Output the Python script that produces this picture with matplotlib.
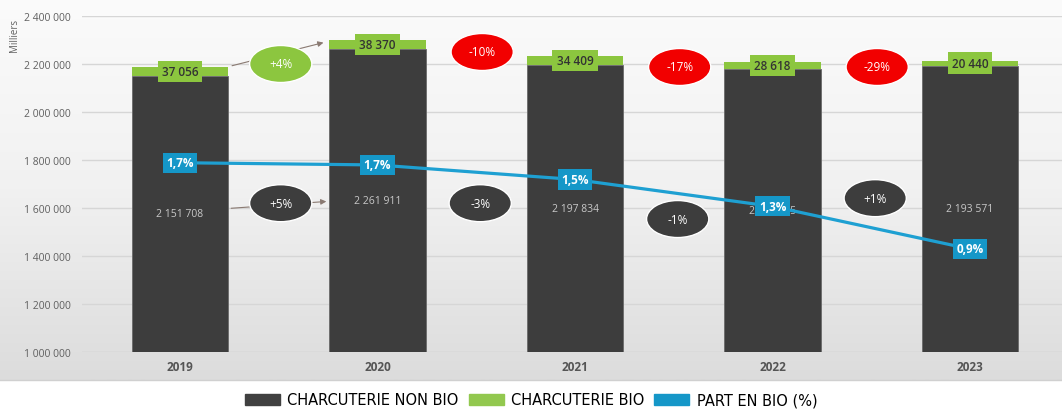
import matplotlib
matplotlib.use("Agg")
import matplotlib.pyplot as plt
import numpy as np
from matplotlib.patches import Ellipse, Patch

plt.rcParams['font.family'] = ['Open Sans', 'DejaVu Sans']

# data
years = ["2019", "2020", "2021", "2022", "2023"]
non_bio = [2151708, 2261911, 2197834, 2178175, 2193571]
bio = [37056, 38370, 34409, 28618, 20440]
part_bio = [1.69, 1.67, 1.54, 1.30, 0.92]
bio_change = ["+4%", "-10%", "-17%", "-29%"]
non_bio_change = ["+5%", "-3%", "-1%", "+1%"]

# layout of the change bubbles (y in axis units)
bio_bubble_y = [2200000, 2250000, 2187500, 2187500]
non_bio_bubble_y = [1620000, 1620000, 1554000, 1641000]

DARK = "#3d3d3d"
GREEN = "#8cc63f"
BLUE = "#1597c8"
RED = "#f20000"


def fmt(v):
    return f"{v:,}".replace(",", " ")


fig = plt.figure(figsize=(10.62, 4.10), dpi=100)

# grey gradient background behind the chart
bg = fig.add_axes([0, 29 / 410, 1, 381 / 410])
grad = np.linspace(0, 1, 256).reshape(-1, 1)
bg.imshow(grad, aspect="auto", cmap=matplotlib.colors.LinearSegmentedColormap.from_list(
    "g", ["#fbfbfb", "#f1f1f1", "#dcdcdc"]), extent=[0, 1, 0, 1], origin="upper")
bg.set_axis_off()
fig.add_artist(plt.Line2D([0, 1], [29 / 410, 29 / 410], color="#d0d0d0", lw=1))

ax = fig.add_axes([82 / 1062, 57 / 410, 980 / 1062, 336 / 410])
ax.patch.set_alpha(0)
x = np.arange(len(years))
ax.set_xlim(-98 / 197.5, -98 / 197.5 + 980 / 197.5)
ax.set_ylim(1000000, 2400000)

w = 0.49
ax.bar(x, non_bio, width=w, color=DARK, edgecolor="#6a6a6a", lw=0.6, zorder=3)
ax.bar(x, bio, width=w, bottom=non_bio, color=GREEN, zorder=3)

ax.set_yticks(np.arange(1000000, 2400001, 200000))
ax.set_yticklabels([fmt(v) for v in range(1000000, 2400001, 200000)],
                   fontsize=7.5, color="#606060")
ax.set_xticks(x)
ax.set_xticklabels(years, fontsize=8.5, color="#555555", fontweight="bold")
ax.tick_params(length=0, pad=8)
ax.tick_params(axis="x", pad=6)
ax.grid(axis="y", color="#d6d6d6", lw=1, zorder=0)
for s in ax.spines.values():
    s.set_visible(False)
ax.axhline(1000000, color="#cfcfcf", lw=1, zorder=1)
fig.text(15 / 1062, 1 - 35 / 410, "Milliers", rotation=90, fontsize=7,
         color="#606060", ha="center", va="center")

# value labels
for i in x:
    ax.text(i, non_bio[i] + bio[i] / 2, fmt(bio[i]), ha="center", va="center",
            fontsize=8.5, color="#333333", fontweight="semibold", zorder=6,
            bbox=dict(boxstyle="square,pad=0.35", fc=GREEN, ec="none"))
    ax.text(i, (non_bio[i] + 1000000) / 2, fmt(non_bio[i]), ha="center",
            va="center", fontsize=7.5, color="#c8c8c8", zorder=4)

# arrows from 2019 to 2020
ax.annotate("", xy=(1 - 0.26, 2292000), xytext=(0.25, 2190000),
            arrowprops=dict(arrowstyle="-|>", color="#8a7a72", lw=0.8,
                            mutation_scale=8), zorder=4)
ax.annotate("", xy=(1 - w / 2, 1628000), xytext=(w / 2, 1598000),
            arrowprops=dict(arrowstyle="-|>", color="#8a7a72", lw=0.8,
                            mutation_scale=8), zorder=4)

# change bubbles
ew, eh = 0.315, 37 * 1400000 / 336
for i in range(len(bio_change)):
    c = GREEN if bio_change[i].startswith("+") else RED
    xb = i + (0.51 if i == 0 else 0.53)
    ax.add_patch(Ellipse((xb, bio_bubble_y[i]), ew, eh, fc=c, ec="white",
                         lw=1, zorder=5))
    ax.text(xb, bio_bubble_y[i], bio_change[i], ha="center", va="center",
            fontsize=8.5, color="white", zorder=6)
    xd = i + (0.51 if i == 0 else 0.52)
    ax.add_patch(Ellipse((xd, non_bio_bubble_y[i]), ew, eh, fc=DARK,
                         ec="white", lw=1, zorder=5))
    ax.text(xd, non_bio_bubble_y[i], non_bio_change[i], ha="center",
            va="center", fontsize=8.5, color="white", zorder=6)

# share of organic line
ax2 = ax.twinx()
ax2.set_ylim(0, 3)
ax2.set_axis_off()
ax2.plot(x, part_bio, color="#1ea0d2", lw=2.3, zorder=3)
for i in x:
    ax2.text(i, part_bio[i], f"{part_bio[i]:.1f}%".replace(".", ","),
             ha="center", va="center", fontsize=8.5, color="white",
             fontweight="bold", zorder=6,
             bbox=dict(boxstyle="square,pad=0.3", fc=BLUE, ec="none"))

handles = [Patch(color="#404040"), Patch(color="#92c84f"), Patch(color=BLUE)]
labels = ["CHARCUTERIE NON BIO", "CHARCUTERIE BIO", "PART EN BIO (%)"]
fig.legend(handles, labels, loc="center", bbox_to_anchor=(0.5, 9 / 410),
           ncol=3, frameon=False, handlelength=2.4, borderpad=0,
           handleheight=0.85, handletextpad=0.5, columnspacing=0.7,
           prop={"family": ["DejaVu Sans"], "size": 10.5})

fig.savefig("out.png", dpi=100)
